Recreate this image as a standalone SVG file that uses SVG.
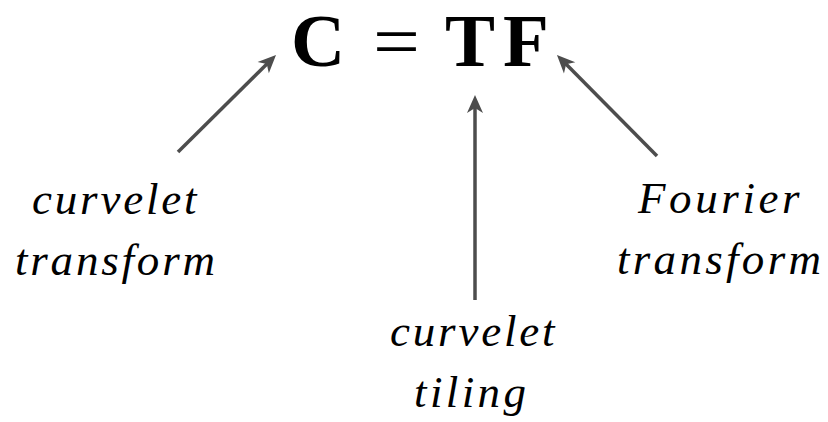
<svg xmlns="http://www.w3.org/2000/svg" width="828" height="422" viewBox="0 0 828 422">
<defs>
<marker id="head" markerUnits="userSpaceOnUse" viewBox="-10 -10 22 20" markerWidth="22" markerHeight="20" refX="0" refY="0" orient="auto">
<path d="M10,0 L-8,-8 L-3,0 L-8,8 Z" fill="#4d4d4d"/>
</marker>
</defs>
<g id="equation" font-size="75" fill="#000">
<text font-family="Liberation Serif" font-weight="bold" x="291" y="66">C</text>
<text font-family="Liberation Serif" x="373" y="66" textLength="47" lengthAdjust="spacingAndGlyphs">=</text>
<text font-family="Liberation Serif" font-weight="bold" x="445" y="66" letter-spacing="8">TF</text>
</g>
<g font-style="italic" font-size="45" letter-spacing="2.8" fill="#000">
<g id="curvelet-transform">
<text font-family="Liberation Serif" x="32" y="214">curvelet</text>
<text font-family="Liberation Serif" x="15" y="275">transform</text>
</g>
<g id="fourier-transform">
<text font-family="Liberation Serif" x="638" y="213" letter-spacing="3.6">Fourier</text>
<text font-family="Liberation Serif" x="617" y="274" letter-spacing="3.3">transform</text>
</g>
<g id="curvelet-tiling">
<text font-family="Liberation Serif" x="390" y="346">curvelet</text>
<text font-family="Liberation Serif" x="414" y="407" letter-spacing="3.4">tiling</text>
</g>
</g>
<g id="connectors" stroke="#4d4d4d" stroke-width="3.5" fill="none" marker-end="url(#head)">
<line x1="178" y1="152" x2="268.9" y2="62"/>
<line x1="475" y1="300" x2="475" y2="105"/>
<line x1="657" y1="156" x2="564" y2="62.1"/>
</g>
</svg>
